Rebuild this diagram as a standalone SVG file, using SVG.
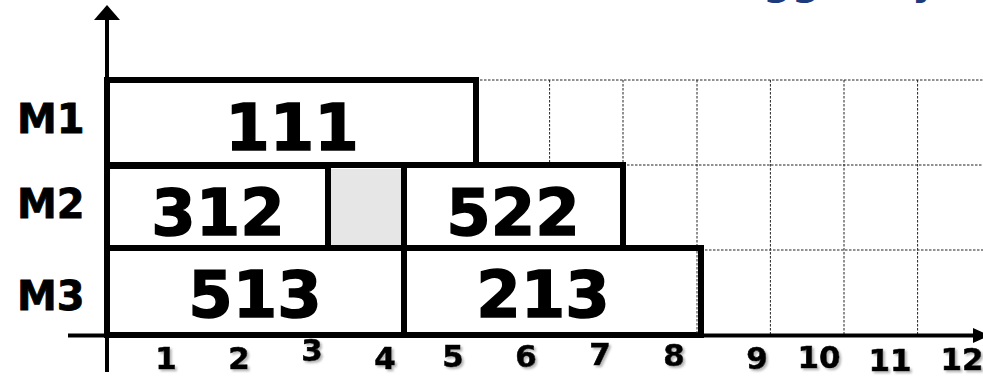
<svg xmlns="http://www.w3.org/2000/svg" width="983" height="377" viewBox="0 0 983 377">
<style>
.grid{stroke:#222;stroke-width:1;stroke-dasharray:2.5 1.5;fill:none}
.box{fill:#fff;stroke:#000;stroke-width:6}
.axis{stroke:#000;stroke-width:4;fill:none}
.big{font-family:"DejaVu Sans","Verdana",sans-serif;font-weight:bold;font-size:64px;fill:#000;stroke:#000;stroke-width:1.5;text-anchor:middle}
.lbl{font-family:"DejaVu Sans","Verdana",sans-serif;font-weight:bold;font-size:40px;fill:#000;stroke:#000;stroke-width:0.8}
.tick{font-family:"DejaVu Sans","Verdana",sans-serif;font-weight:bold;font-size:31px;fill:#000;stroke:#000;stroke-width:0.6;text-anchor:middle;filter:url(#sh)}
.title{font-family:"DejaVu Sans","Verdana",sans-serif;font-weight:bold;font-size:40px;fill:#1c3a7c}
</style>
<defs>
<filter id="sh" x="-20%" y="-20%" width="160%" height="160%">
<feDropShadow dx="2" dy="2" stdDeviation="1" flood-color="#888" flood-opacity="0.6"/>
</filter>
</defs>
<text class="title" y="-6"><tspan x="763">gg</tspan><tspan x="912">y</tspan></text>
<g id="grid">
<path class="grid" d="M476 80H983M623 165H983M701 250H983"/>
<path class="grid" d="M549.6 80V334M623 80V334M697 80V334M770.4 80V334M844 80V334M917.6 80V334"/>
</g>
<g id="axes">
<path class="axis" d="M107 18V372"/>
<polygon points="107,5 94,20 120,20" fill="#000"/>
<path class="axis" d="M68 335.5H975"/>
<polygon points="973,328 973,343 990,335.5" fill="#000"/>
</g>
<g id="job-111"><rect class="box" x="107" y="80" width="369" height="85"/><text class="big" x="292" y="150">111</text></g>
<g id="job-312"><rect class="box" x="107" y="166" width="221" height="82"/><text class="big" x="218" y="235">312</text></g>
<g id="idle"><rect x="331" y="169" width="70" height="77" fill="#e6e6e6"/><path d="M331 247H402" stroke="#333" stroke-width="1.2" stroke-dasharray="3 2"/><path d="M404 165V250" stroke="#000" stroke-width="6"/></g>
<g id="job-522"><rect class="box" x="404" y="165" width="219" height="83"/><text class="big" x="513" y="235">522</text></g>
<g id="job-513"><rect class="box" x="107" y="248" width="297" height="87"/><text class="big" x="255" y="317">513</text></g>
<g id="job-213"><rect class="box" x="404" y="248" width="297" height="87"/><path d="M697 251V333" stroke="#333" stroke-width="1" stroke-dasharray="2.5 1.5"/><text class="big" x="543" y="317">213</text></g>
<g id="labels">
<text class="lbl" x="17" y="133">M1</text>
<text class="lbl" x="17" y="218">M2</text>
<text class="lbl" x="17" y="310">M3</text>
</g>
<g id="ticks">
<text class="tick" x="166" y="369">1</text>
<text class="tick" x="239" y="369">2</text>
<text class="tick" x="312" y="361">3</text>
<text class="tick" x="385" y="369">4</text>
<text class="tick" x="453" y="367">5</text>
<text class="tick" x="526" y="367">6</text>
<text class="tick" x="600" y="365">7</text>
<text class="tick" x="674" y="366">8</text>
<text class="tick" x="757" y="369">9</text>
<text class="tick" x="819" y="368">10</text>
<text class="tick" x="890" y="371">11</text>
<text class="tick" x="962" y="370">12</text>
</g>
</svg>
